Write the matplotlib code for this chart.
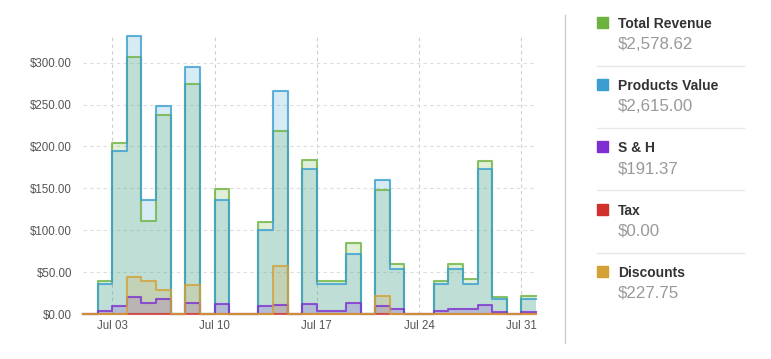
import numpy as np
import matplotlib.pyplot as plt
from matplotlib.patches import Rectangle
from matplotlib.lines import Line2D

plt.rcParams['font.family'] = ['Liberation Sans', 'DejaVu Sans']

# Daily values, Jul 01 .. Jul 31
days = np.arange(1, 32)
total_revenue = [0, 39.4, 204.1, 307.2, 111.0, 237.6, 0, 275.0, 0, 148.8,
                 0, 0, 110.2, 218.9, 0, 184.2, 39.4, 39.4, 84.8, 0,
                 148.0, 59.7, 0, 0, 39.0, 60.1, 42.2, 183.0, 20.7, 0, 21.1]
products_value = [0, 36.2, 195.0, 331.9, 136.5, 248.3, 0, 295.3, 0, 136.5,
                  0, 0, 100.3, 265.8, 0, 172.7, 36.2, 36.2, 72.0, 0,
                  159.6, 54.1, 0, 0, 36.2, 54.1, 35.8, 172.7, 17.9, 0, 17.9]
s_and_h = [0, 3.6, 10.0, 20.7, 13.5, 17.9, 0, 13.5, 0, 11.9,
           0, 0, 9.2, 10.7, 0, 11.9, 3.6, 3.6, 12.7, 0,
           10.0, 6.4, 0, 0, 3.6, 6.4, 5.6, 10.7, 2.8, 0, 2.8]
tax = [0] * 31
discounts = [0, 0, 0, 44.6, 39.8, 29.0, 0, 34.6, 0, 0,
             0, 0, 0, 57.3, 0, 0, 0, 0, 0, 0,
             21.9, 0, 0, 0, 0, 0, 0, 0, 0, 0, 0]

series_names = ['Total Revenue', 'Products Value', 'S & H', 'Tax', 'Discounts']
series_totals = ['$2,578.62', '$2,615.00', '$191.37', '$0.00', '$227.75']
series_colors = ['#6db33f', '#3a9fd0', '#7e2fd0', '#d0312d', '#d4a136']
series_data = [total_revenue, products_value, s_and_h, tax, discounts]

tick_days = [3, 10, 17, 24, 31]
tick_labels = ['Jul 03', 'Jul 10', 'Jul 17', 'Jul 24', 'Jul 31']
y_ticks = [0, 50, 100, 150, 200, 250, 300]

W, H = 771, 359
fig = plt.figure(figsize=(W / 100, H / 100), dpi=100)
ax = fig.add_axes([83 / W, 1 - 314 / H, (536 - 83) / W, (314 - 36) / H])

# step edges: each day covers [d, d+1)
x_edges = np.append(days, days[-1] + 1)
for vals, col in zip(series_data, series_colors):
    y = np.append(vals, vals[-1])
    ax.fill_between(x_edges, 0, y, step='post', color=col, alpha=0.2, linewidth=0)
    ax.step(x_edges, y, where='post', color=col, linewidth=1.5, alpha=0.8,
            clip_on=False)

ax.set_xlim(1, 32)
ax.set_ylim(0, max(products_value))
ax.set_xticks(tick_days)
ax.set_xticklabels(tick_labels)
ax.set_yticks(y_ticks)
ax.set_yticklabels([f'${v:.2f}' for v in y_ticks])
ax.tick_params(length=0, labelsize=8.3, colors='#555555')
ax.tick_params(axis='y', pad=8)
ax.tick_params(axis='x', pad=4)
ax.grid(axis='y', linestyle=(0, (3, 3)), color='#dddddd', linewidth=0.8)
ax.grid(axis='x', linestyle=(0, (3, 3)), color='#cccccc', linewidth=0.8)
ax.set_axisbelow(True)
for s in ax.spines.values():
    s.set_visible(False)

# Legend panel on the right
def fx(px):
    return px / W

def fy(py):
    return 1 - py / H

fig.add_artist(Line2D([fx(565), fx(565)], [fy(15), fy(343)], color='#cccccc', linewidth=1))
pitch = 62.2
for i, (name, tot, col) in enumerate(zip(series_names, series_totals, series_colors)):
    top = 17 + i * pitch
    fig.add_artist(Rectangle((fx(597), fy(top + 11)), 11 / W, 11 / H, color=col,
                             transform=fig.transFigure))
    fig.text(fx(618), fy(top + 7), name, fontsize=10, fontweight='bold',
             color='#333333', va='center', ha='left')
    fig.text(fx(618), fy(top + 27.5), tot, fontsize=12.2, color='#999999',
             va='center', ha='left')
    if i < len(series_names) - 1:
        ly = 66 + i * pitch
        fig.add_artist(Line2D([fx(597), fx(744)], [fy(ly), fy(ly)], color='#e8e8e8',
                              linewidth=1))

fig.savefig('out.png', dpi=100)
